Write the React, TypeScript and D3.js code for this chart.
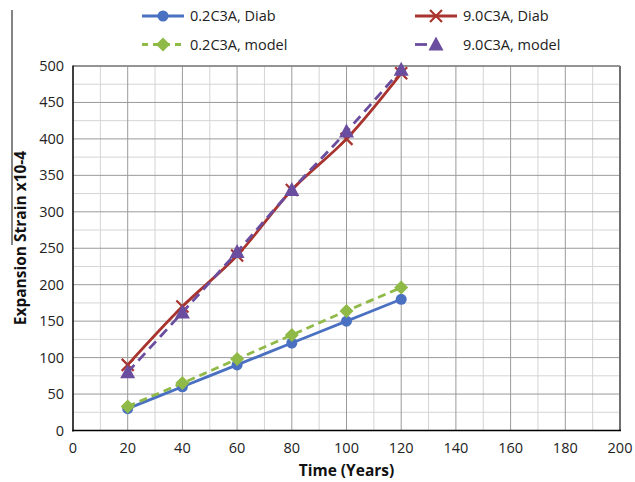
import React from "react";
import * as d3 from "d3";

const years = [20, 40, 60, 80, 100, 120];
const diab02 = [30, 60, 90, 120, 150, 180];
const model02 = [33, 65, 98, 131, 164, 196];
const diab90 = [90, 170, 240, 330, 400, 490];
const model90 = [80, 162, 245, 330, 410, 495];
const xTicks = [0, 20, 40, 60, 80, 100, 120, 140, 160, 180, 200];
const yTicks = [0, 50, 100, 150, 200, 250, 300, 350, 400, 450, 500];
const seriesNames = ["0.2C3A, Diab", "9.0C3A, Diab", "0.2C3A, model", "9.0C3A, model"];

const W = 635, H = 482;
const L = 73, R = 620, T = 66, B = 430.5;
const FONT = "'Open Sans', 'Liberation Sans', sans-serif";

const colors = { blue: "#4a70c1", red: "#a9342f", green: "#8fba47", purple: "#6a4d9e" };

function Marker({ type, x, y, color }: { type: string; x: number; y: number; color: string }) {
  if (type === "circle") return <circle cx={x} cy={y} r={5.5} fill={color} />;
  if (type === "diamond")
    return <path d={`M${x},${y - 7}L${x + 7},${y}L${x},${y + 7}L${x - 7},${y}Z`} fill={color} />;
  if (type === "triangle")
    return <path d={`M${x},${y - 8}L${x + 7.5},${y + 6}L${x - 7.5},${y + 6}Z`} fill={color} />;
  return (
    <path d={`M${x - 6},${y - 6}L${x + 6},${y + 6}M${x - 6},${y + 6}L${x + 6},${y - 6}`} stroke={color} strokeWidth={2.2} />
  );
}

export default function App() {
  const x = d3.scaleLinear().domain([0, 200]).range([L, R]);
  const y = d3.scaleLinear().domain([0, 500]).range([B, T]);
  const line = d3
    .line<[number, number]>()
    .x((d) => x(d[0]))
    .y((d) => y(d[1]))
    .curve(d3.curveCatmullRom.alpha(0.5));
  const minorX = d3.range(10, 200, 20);
  const minorY = d3.range(25, 500, 50);

  const series = [
    { vals: diab02, color: colors.blue, dash: "", marker: "circle" },
    { vals: model02, color: colors.green, dash: "8,5", marker: "diamond" },
    { vals: diab90, color: colors.red, dash: "", marker: "x" },
    { vals: model90, color: colors.purple, dash: "10,6", marker: "triangle" },
  ];

  const legend = [
    { name: seriesNames[0], color: colors.blue, dash: "", marker: "circle", lx: 142, ly: 16 },
    { name: seriesNames[1], color: colors.red, dash: "", marker: "x", lx: 415, ly: 16 },
    { name: seriesNames[2], color: colors.green, dash: "6,5", marker: "diamond", lx: 142, ly: 44.5 },
    { name: seriesNames[3], color: colors.purple, dash: "12,30", marker: "triangle", lx: 415, ly: 44.5 },
  ];

  return (
    <svg width={W} height={H} style={{ position: "absolute", left: 0, top: 0, background: "#fff" }}>
      <rect width={W} height={H} fill="#fff" />
      {minorX.map((v) => (
        <line key={"mx" + v} x1={x(v)} x2={x(v)} y1={T} y2={B} stroke="#d4d4d4" strokeWidth={1} />
      ))}
      {minorY.map((v) => (
        <line key={"my" + v} x1={L} x2={R} y1={y(v)} y2={y(v)} stroke="#d4d4d4" strokeWidth={1} />
      ))}
      {xTicks.slice(1).map((v) => (
        <line key={"gx" + v} x1={x(v)} x2={x(v)} y1={T} y2={B} stroke="#9a9a9a" strokeWidth={1} />
      ))}
      {yTicks.slice(1).map((v) => (
        <line key={"gy" + v} x1={L} x2={R} y1={y(v)} y2={y(v)} stroke="#9a9a9a" strokeWidth={1} />
      ))}
      <line x1={R} x2={R} y1={T} y2={B} stroke="#707070" strokeWidth={2} />
      <line x1={L} x2={R} y1={T} y2={T} stroke="#808080" strokeWidth={1.5} />
      <line x1={L} x2={L} y1={T - 0.5} y2={B + 1} stroke="#000" strokeWidth={1.5} />
      <line x1={L - 0.7} x2={R + 1} y1={B} y2={B} stroke="#000" strokeWidth={1.5} />
      {xTicks.map((v) => (
        <text key={"tx" + v} x={x(v)} y={453} textAnchor="middle" fontFamily={FONT} fontSize={14.5} fill="#222">
          {v}
        </text>
      ))}
      {yTicks.map((v) => (
        <text key={"ty" + v} x={64} y={y(v) + 5} textAnchor="end" fontFamily={FONT} fontSize={14.5} fill="#222">
          {v}
        </text>
      ))}
      <text x={x(100)} y={476} textAnchor="middle" fontFamily={FONT} fontWeight="bold" fontSize={15.5} fill="#111">
        Time (Years)
      </text>
      <text
        transform={`translate(26,${238}) rotate(-90)`}
        textAnchor="middle"
        fontFamily={FONT}
        fontWeight="bold"
        fontSize={15.5}
        fill="#111"
      >
        Expansion Strain x10-4
      </text>
      <line x1={12} x2={12} y1={10} y2={245} stroke="#333" strokeWidth={1.2} />
      {series.map((s, i) => {
        const pts = years.map((yr, j) => [yr, s.vals[j]] as [number, number]);
        return (
          <g key={"s" + i}>
            <path d={line(pts) || ""} fill="none" stroke={s.color} strokeWidth={2.8} strokeDasharray={s.dash} />
            {pts.map((p, j) => (
              <Marker key={j} type={s.marker} x={x(p[0])} y={y(p[1])} color={s.color} />
            ))}
          </g>
        );
      })}
      {legend.map((l, i) => (
        <g key={"l" + i}>
          <line x1={l.lx} x2={l.lx + 42} y1={l.ly} y2={l.ly} stroke={l.color} strokeWidth={2.8} strokeDasharray={l.dash} />
          <Marker type={l.marker} x={l.lx + 21} y={l.ly} color={l.color} />
          <text x={l.lx + 48} y={l.ly + 5} fontFamily={FONT} fontSize={14.5} fill="#222">
            {l.name}
          </text>
        </g>
      ))}
    </svg>
  );
}
